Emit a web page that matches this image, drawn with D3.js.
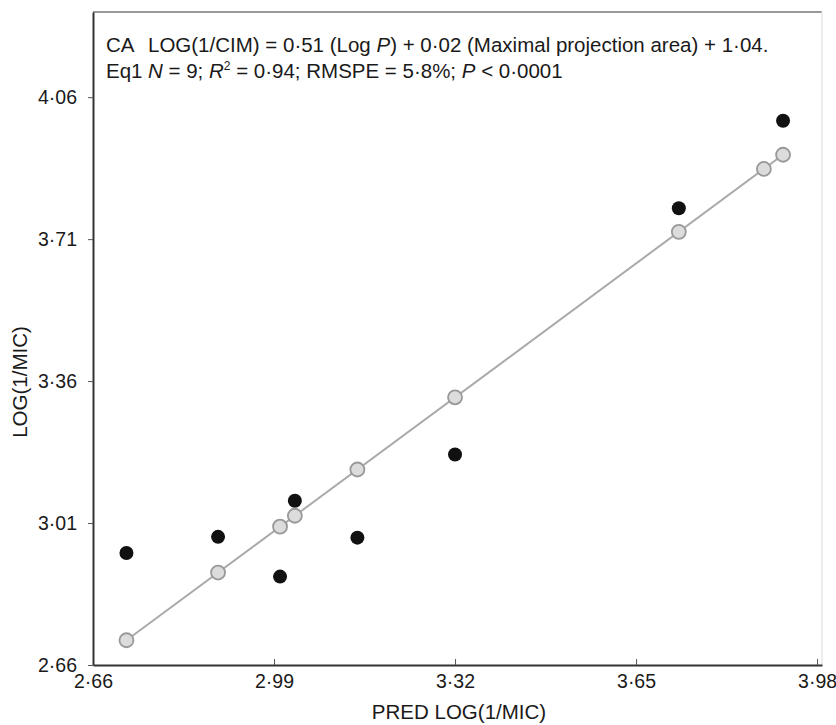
<!DOCTYPE html>
<html>
<head>
<meta charset="utf-8">
<script src="https://cdn.jsdelivr.net/npm/d3@7"></script>
<style>
  body { margin: 0; background: #fff; }
  text { font-family: "Liberation Sans Narrow", "Arial Narrow", "Liberation Sans", sans-serif; fill: #1a1a1a; }
</style>
</head>
<body>
<div id="chart"></div>
<script>
// predicted vs observed LOG(1/MIC), 9 compounds
var predicted = [2.721, 2.888, 3.001, 3.028, 3.142, 3.320, 3.728, 3.883, 3.918];
var observed  = [2.936, 2.976, 2.878, 3.065, 2.974, 3.179, 3.786, 3.883, 4.002];
var xTicks = [2.66, 2.99, 3.32, 3.65, 3.98];
var yTicks = [2.66, 3.01, 3.36, 3.71, 4.06];

var width = 836, height = 725;
var margin = {left: 93, right: 14, top: 12, bottom: 60};

var fmt = function (d) { return d.toFixed(2).replace(".", "\u00b7"); };

var svg = d3.select("#chart").append("svg")
    .attr("width", width)
    .attr("height", height);

var x = d3.scaleLinear().domain([2.66, 3.989]).range([margin.left, width - margin.right]);
var y = d3.scaleLinear().domain([2.66, 4.27]).range([height - margin.bottom, margin.top]);

// frame (top + right are light)
svg.append("line")
    .attr("x1", x.range()[0]).attr("x2", x.range()[1])
    .attr("y1", margin.top).attr("y2", margin.top)
    .attr("stroke", "#777").attr("stroke-width", 1.5);
svg.append("line")
    .attr("x1", x.range()[1]).attr("x2", x.range()[1])
    .attr("y1", margin.top).attr("y2", height - margin.bottom)
    .attr("stroke", "#e6e6e6").attr("stroke-width", 1.5);

// x axis, ticks pointing inward
var xAxis = svg.append("g")
    .attr("transform", "translate(0," + (height - margin.bottom) + ")")
    .call(d3.axisBottom(x).tickValues(xTicks).tickFormat(fmt).tickSizeInner(-6).tickSizeOuter(0).tickPadding(9));
xAxis.select(".domain").attr("stroke", "#333").attr("stroke-width", 2);
xAxis.selectAll(".tick line").attr("stroke", "#555");
xAxis.selectAll("text").attr("font-size", 19.5).attr("fill", "#1a1a1a");

// y axis
var yAxis = svg.append("g")
    .attr("transform", "translate(" + margin.left + ",0)")
    .call(d3.axisLeft(y).tickValues(yTicks).tickFormat(fmt).tickSizeInner(5).tickSizeOuter(0).tickPadding(11));
yAxis.select(".domain").attr("stroke", "#333").attr("stroke-width", 2);
yAxis.selectAll(".tick line").attr("stroke", "#555");
yAxis.selectAll("text").attr("font-size", 19.5).attr("fill", "#1a1a1a");

// axis titles
svg.append("text")
    .attr("x", 459)
    .attr("y", 719)
    .attr("text-anchor", "middle")
    .attr("font-size", 20.5)
    .text("PRED LOG(1/MIC)");

svg.append("text")
    .attr("transform", "translate(27,382)rotate(-90)")
    .attr("text-anchor", "middle")
    .attr("font-size", 20.5)
    .text("LOG(1/MIC)");

// regression line through predicted points
svg.append("line")
    .attr("x1", x(d3.min(predicted))).attr("y1", y(d3.min(predicted)))
    .attr("x2", x(d3.max(predicted))).attr("y2", y(d3.max(predicted)))
    .attr("stroke", "#aaa").attr("stroke-width", 2);

// observed (black)
svg.selectAll(".obs")
    .data(observed)
    .enter().append("circle")
    .attr("class", "obs")
    .attr("cx", function (d, i) { return x(predicted[i]); })
    .attr("cy", function (d) { return y(d); })
    .attr("r", 7)
    .attr("fill", "#111");

// predicted (grey)
svg.selectAll(".pred")
    .data(predicted)
    .enter().append("circle")
    .attr("class", "pred")
    .attr("cx", function (d) { return x(d); })
    .attr("cy", function (d) { return y(d); })
    .attr("r", 7)
    .attr("fill", "#dcdcdc")
    .attr("stroke", "#999")
    .attr("stroke-width", 1.8);

// equation text
var eq = svg.append("g").attr("font-size", 20.5);
var l1 = eq.append("text").attr("x", 106).attr("y", 52);
l1.append("tspan").text("CA");
l1.append("tspan").attr("x", 148).text("LOG(1/CIM) = 0\u00b751 (Log ");
l1.append("tspan").attr("font-style", "italic").text("P");
l1.append("tspan").text(") + 0\u00b702 (Maximal projection area) + 1\u00b704.");

var l2 = eq.append("text").attr("x", 106).attr("y", 78);
l2.append("tspan").text("Eq1");
l2.append("tspan").attr("x", 148).attr("font-style", "italic").text("N");
l2.append("tspan").text(" = 9; ");
l2.append("tspan").attr("font-style", "italic").text("R");
l2.append("tspan").attr("font-size", 12).attr("dy", -8).text("2");
l2.append("tspan").attr("dy", 8).text(" = 0\u00b794; RMSPE = 5\u00b78%; ");
l2.append("tspan").attr("font-style", "italic").text("P");
l2.append("tspan").text(" < 0\u00b70001");
</script>
</body>
</html>
